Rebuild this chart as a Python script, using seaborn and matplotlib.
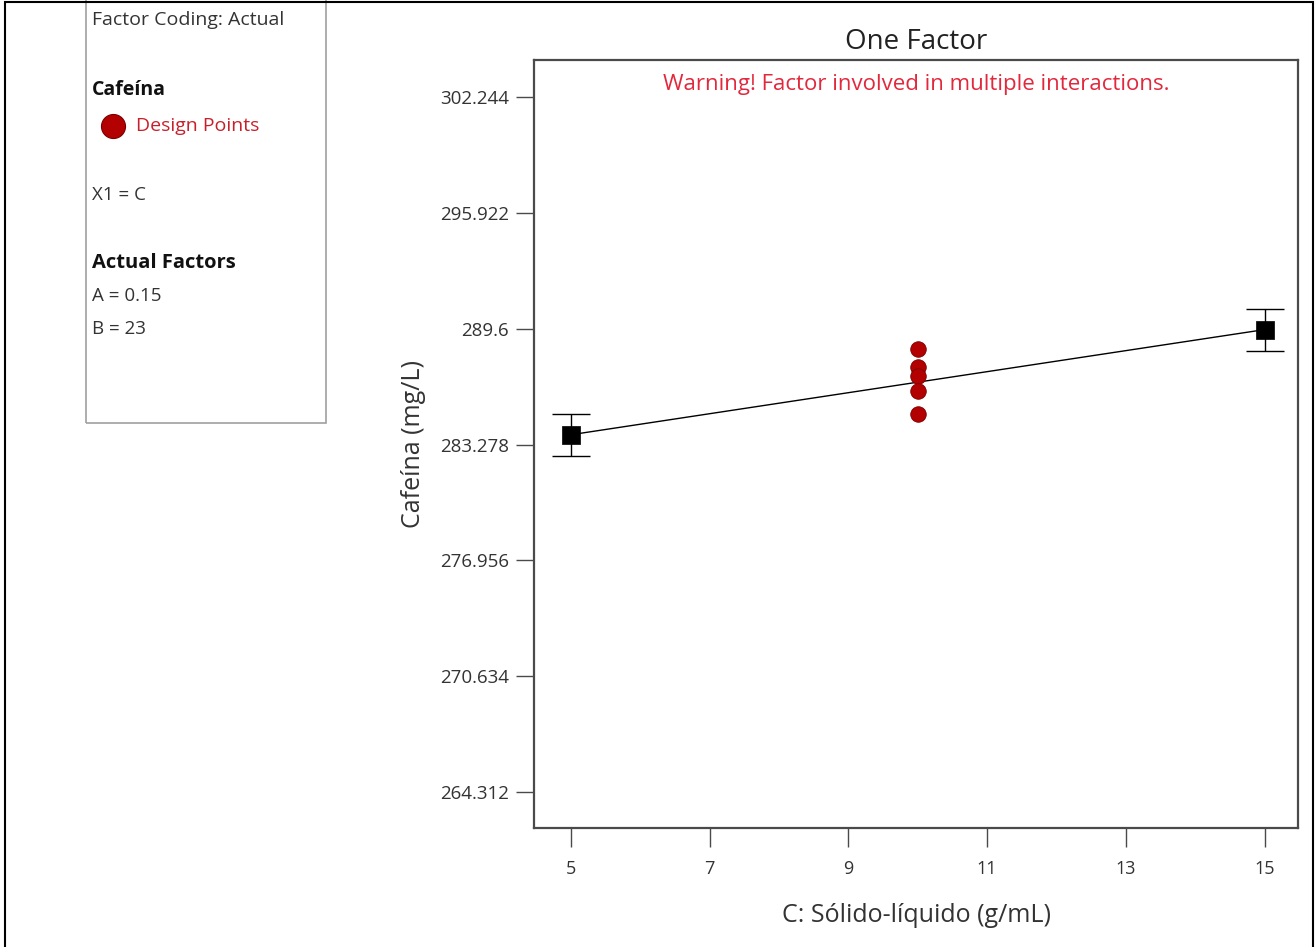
import matplotlib
matplotlib.use("Agg")
import matplotlib.pyplot as plt
from matplotlib.patches import Rectangle
import numpy as np
import pandas as pd
import seaborn as sns

# Model prediction at the factor extremes, with confidence half-width
factor_levels = [5, 15]
predicted = [283.81, 289.55]
ci_half = [1.15, 1.15]

# Design points (centre runs)
design_x = [10, 10, 10, 10, 10]
design_y = [288.51, 287.52, 287.03, 286.21, 284.96]

x_ticks = [5, 7, 9, 11, 13, 15]
y_ticks = [264.312, 270.634, 276.956, 283.278, 289.6, 295.922, 302.244]
y_tick_labels = ["264.312", "270.634", "276.956", "283.278", "289.6", "295.922", "302.244"]

sns.set_theme(style="white")
plt.rcParams["font.family"] = ["Open Sans", "DejaVu Sans"]

W, H = 1315, 947
fig = plt.figure(figsize=(W / 100, H / 100), dpi=100)
ax = fig.add_axes([534 / W, 1 - 828 / H, (1298 - 534) / W, (828 - 60) / H])

pred_df = pd.DataFrame({"x": factor_levels, "y": predicted, "ci": ci_half})
design_df = pd.DataFrame({"x": design_x, "y": design_y})

sns.lineplot(data=pred_df, x="x", y="y", color="black", linewidth=1.0, ax=ax, zorder=2)
ax.errorbar(pred_df["x"], pred_df["y"], yerr=pred_df["ci"], fmt="none",
            ecolor="black", elinewidth=1.0, capsize=14, capthick=1.0, zorder=3)
sns.scatterplot(data=pred_df, x="x", y="y", marker="s", s=150, color="black",
                edgecolor="black", linewidth=0.5, ax=ax, zorder=4)
sns.scatterplot(data=design_df, x="x", y="y", marker="o", s=125, color="#B30000",
                edgecolor="#7A0000", linewidth=0.6, ax=ax, zorder=5)

ax.set_xlim(4.47, 15.48)
ax.set_ylim(262.347, 304.264)
ax.set_xticks(x_ticks)
ax.set_xticklabels([str(v) for v in x_ticks])
ax.set_yticks(y_ticks)
ax.set_yticklabels(y_tick_labels)

for s in ax.spines.values():
    s.set_color("#4a4a4a")
    s.set_linewidth(1.6)
ax.tick_params(axis="y", direction="out", length=13, width=1.0, color="#4a4a4a",
               labelsize=13.5, labelcolor="#333333", pad=5, left=True)
ax.tick_params(axis="x", direction="out", length=14, width=1.0, color="#4a4a4a",
               labelsize=13, labelcolor="#333333", pad=9, bottom=True)

ax.set_xlabel("C: Sólido-líquido (g/mL)", fontsize=18, color="#333333", labelpad=18)
ax.set_ylabel("Cafeína (mg/L)", fontsize=18, color="#333333", labelpad=10)
ax.set_title("One Factor", fontsize=20, color="#222222", pad=8)
ax.text(0.5, 0.982, "Warning! Factor involved in multiple interactions.",
        transform=ax.transAxes, ha="center", va="top", fontsize=16, color="#E2283C")

# Side panel with factor settings
def fx(px):
    return px / W

def fy(py):
    return 1 - py / H

fig.patches.append(Rectangle((fx(86), fy(423)), fx(326) - fx(86), fy(-5) - fy(423),
                             transform=fig.transFigure, fill=False,
                             edgecolor="#a0a0a0", linewidth=1.2))
txt = dict(transform=fig.transFigure, va="center", ha="left", color="#333333")
bold = {**txt, "color": "#111111"}
fig.text(fx(92), fy(20), "Factor Coding: Actual", fontsize=14, **txt)
fig.text(fx(92), fy(90), "Cafeína", fontsize=14, fontweight="bold", **bold)
fig.text(fx(136), fy(126), "Design Points", fontsize=14, **{**txt, "color": "#C8202A"})
fig.text(fx(92), fy(195), "X1 = C", fontsize=13.5, **txt)
fig.text(fx(92), fy(263), "Actual Factors", fontsize=14.5, fontweight="bold", **bold)
fig.text(fx(92), fy(296), "A = 0.15", fontsize=13.5, **txt)
fig.text(fx(92), fy(329), "B = 23", fontsize=13.5, **txt)
legend_ax = fig.add_axes([0, 0, 1, 1], facecolor="none")
legend_ax.set_axis_off()
legend_ax.set_xlim(0, W)
legend_ax.set_ylim(H, 0)
sns.scatterplot(x=[113], y=[126], marker="o", s=300, color="#B30000",
                edgecolor="#7A0000", linewidth=0.8, ax=legend_ax, legend=False)

# Outer frame
fig.patches.append(Rectangle((fx(5), fy(960)), fx(1313) - fx(5), fy(2) - fy(960),
                             transform=fig.transFigure, fill=False,
                             edgecolor="black", linewidth=1.5))

fig.savefig("out.png", dpi=100)
